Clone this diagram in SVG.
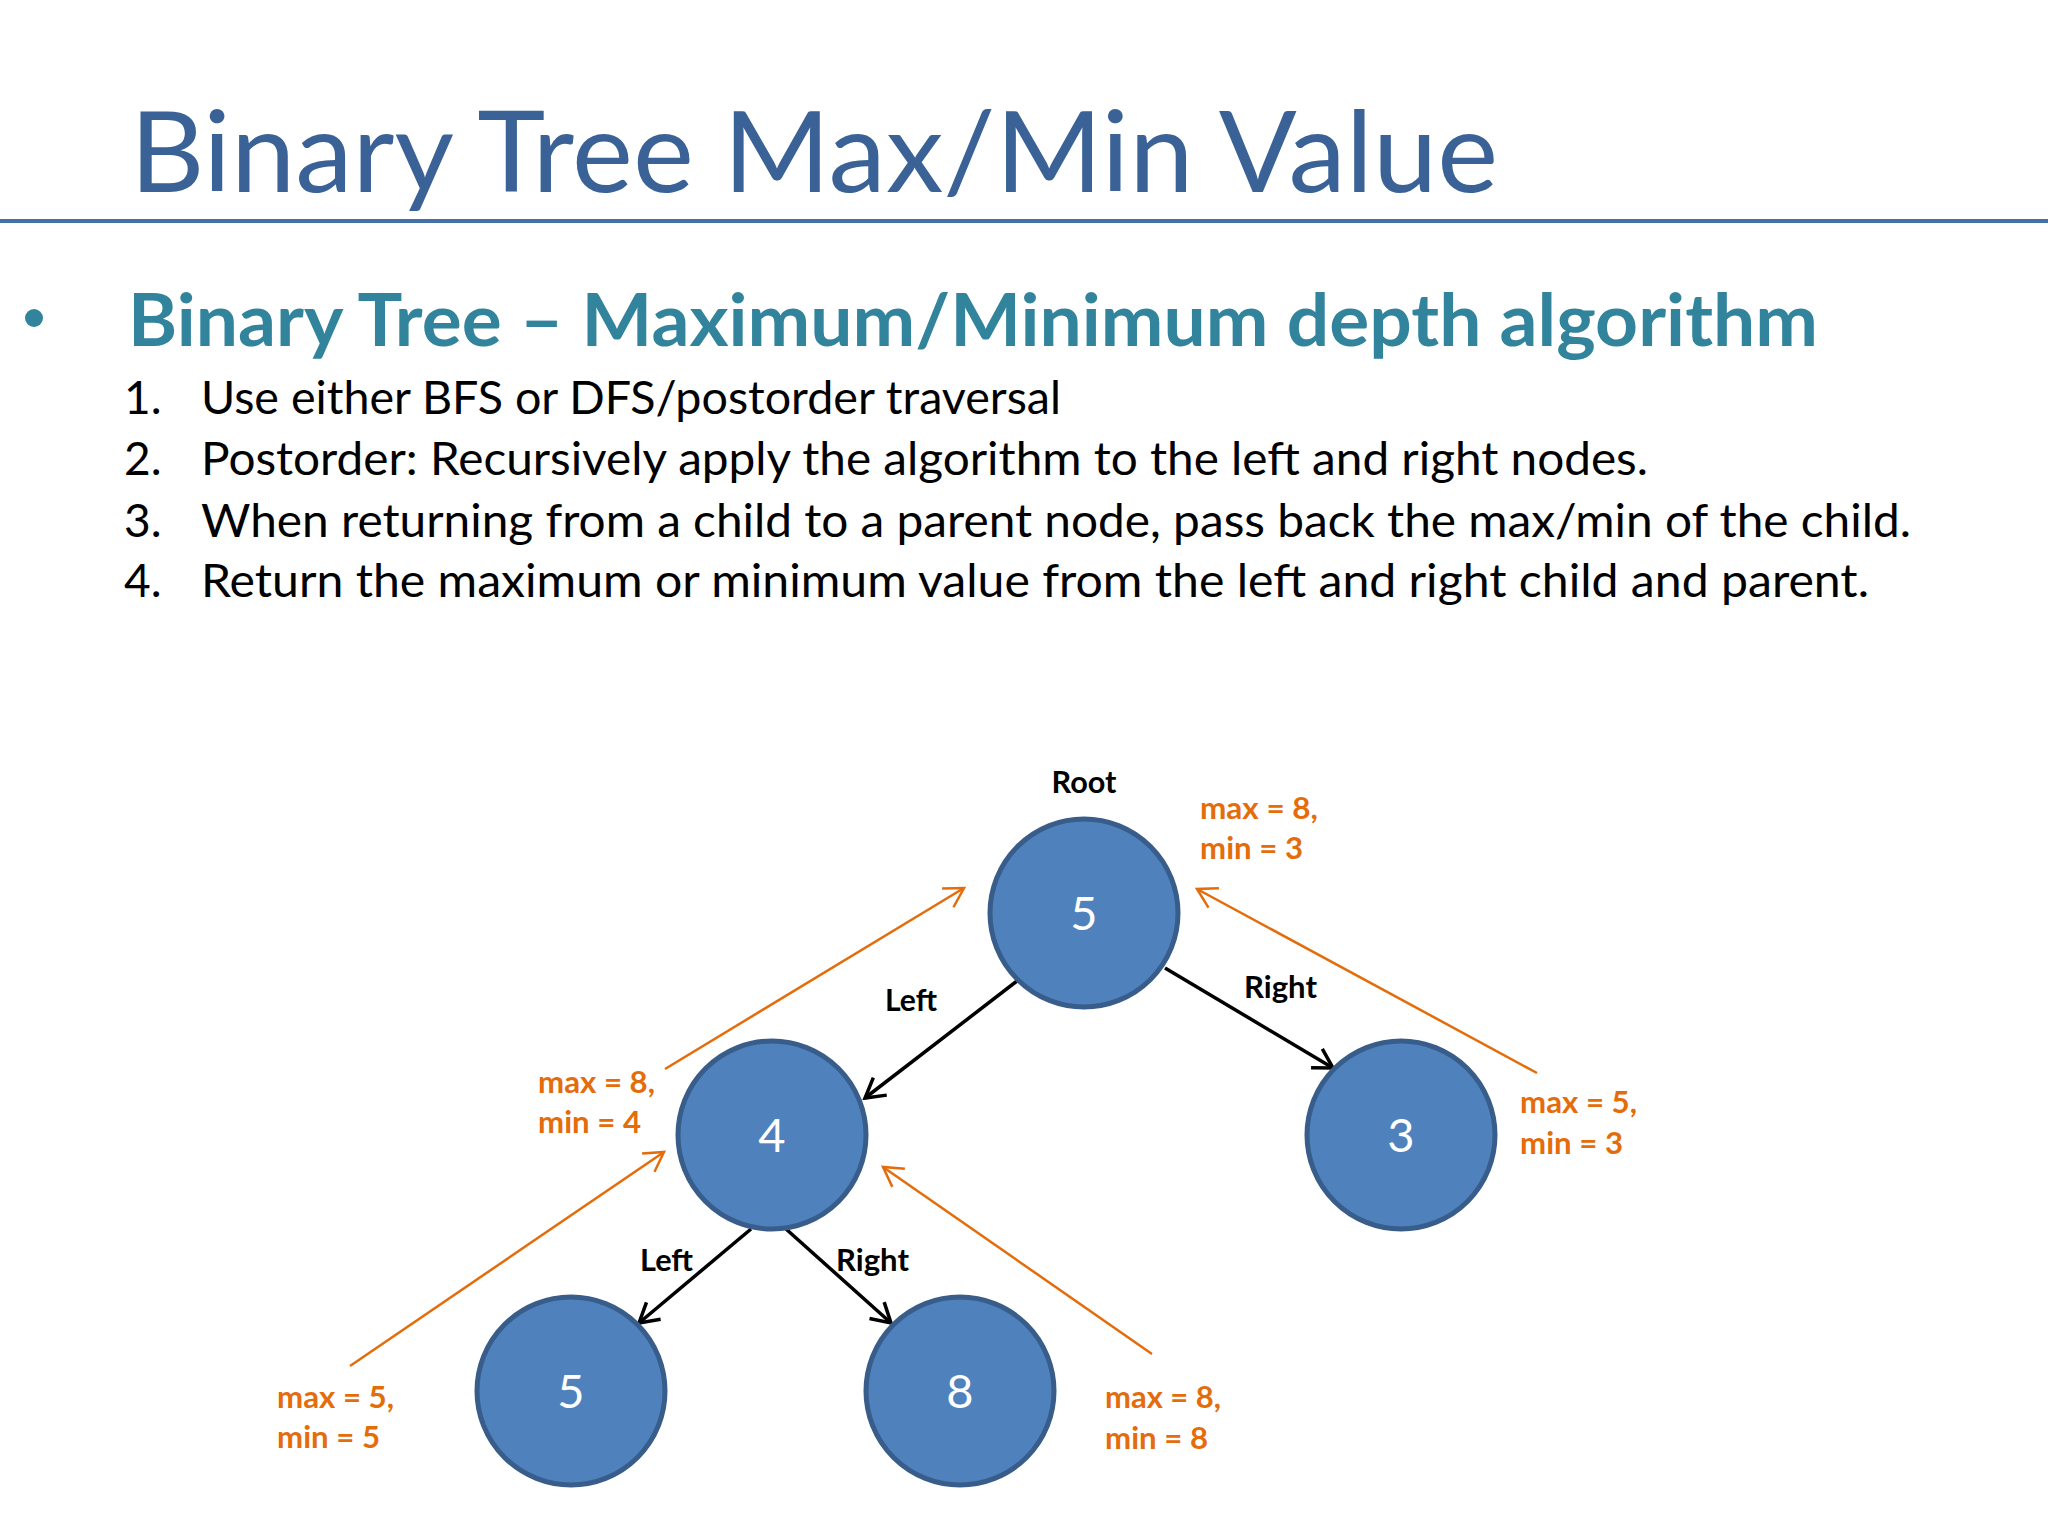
<svg xmlns="http://www.w3.org/2000/svg" width="2048" height="1536" viewBox="0 0 2048 1536">
<style>
.title{font-family:Lato,"Open Sans","Liberation Sans",sans-serif;font-size:112px;fill:#3A6297}
.head{font-family:Lato,"Open Sans","Liberation Sans",sans-serif;font-size:72px;font-weight:bold;fill:#31849B}
.item{font-family:Lato,"Open Sans","Liberation Sans",sans-serif;font-size:46px;fill:#000}
.node circle{fill:#4F81BD;stroke:#385D8A;stroke-width:5}
.node text.num{font-family:Lato,"Open Sans","Liberation Sans",sans-serif;font-size:47px;fill:#fff;text-anchor:middle}
.lbl{font-family:Lato,"Open Sans","Liberation Sans",sans-serif;font-size:30px;font-weight:bold;fill:#000}
.node text.val{font-family:Lato,"Open Sans","Liberation Sans",sans-serif;font-size:30px;font-weight:bold;fill:#E46C0A;text-anchor:start}
.edge{stroke:#000;stroke-width:3.5;fill:none;marker-end:url(#ab)}
.ret{stroke:#E46C0A;stroke-width:2.5;fill:none;marker-end:url(#ao)}
</style>
<defs>
<marker id="ab" viewBox="-24 -14 27 28" refX="0" refY="0" markerWidth="27" markerHeight="28" markerUnits="userSpaceOnUse" orient="auto">
<path d="M-19,-11 L0,0 L-19,11" fill="none" stroke="#000" stroke-width="3.5"/>
</marker>
<marker id="ao" viewBox="-24 -14 27 28" refX="0" refY="0" markerWidth="27" markerHeight="28" markerUnits="userSpaceOnUse" orient="auto">
<path d="M-19,-11 L0,0 L-19,11" fill="none" stroke="#E46C0A" stroke-width="2.5"/>
</marker>
</defs>
<rect width="2048" height="1536" fill="#fff"/>
<text class="title" x="130" y="192" textLength="1368" lengthAdjust="spacingAndGlyphs">Binary Tree Max/Min Value</text>
<rect x="0" y="219" width="2048" height="4" fill="#4470A8"/>
<circle cx="34" cy="318" r="9" fill="#31849B"/>
<text class="head" x="128" y="346" textLength="1690" lengthAdjust="spacingAndGlyphs">Binary Tree – Maximum/Minimum depth algorithm</text>
<text class="item" x="124" y="414">1.</text>
<text class="item" x="201" y="414" textLength="860" lengthAdjust="spacingAndGlyphs">Use either BFS or DFS/postorder traversal</text>
<text class="item" x="124" y="475">2.</text>
<text class="item" x="201" y="475" textLength="1447" lengthAdjust="spacingAndGlyphs">Postorder: Recursively apply the algorithm to the left and right nodes.</text>
<text class="item" x="124" y="537">3.</text>
<text class="item" x="201" y="537" textLength="1710" lengthAdjust="spacingAndGlyphs">When returning from a child to a parent node, pass back the max/min of the child.</text>
<text class="item" x="124" y="597">4.</text>
<text class="item" x="201" y="597" textLength="1668" lengthAdjust="spacingAndGlyphs">Return the maximum or minimum value from the left and right child and parent.</text>
<g id="connectors">
<line class="edge" x1="1017" y1="981" x2="865" y2="1098"/>
<line class="edge" x1="1165" y1="968" x2="1333" y2="1068"/>
<line class="edge" x1="751" y1="1229" x2="639" y2="1323"/>
<line class="edge" x1="786" y1="1229" x2="891" y2="1323"/>
<line class="ret" x1="665" y1="1069" x2="964" y2="888"/>
<line class="ret" x1="1537" y1="1073" x2="1197" y2="889"/>
<line class="ret" x1="350" y1="1366" x2="664" y2="1152"/>
<line class="ret" x1="1152" y1="1354" x2="883" y2="1167"/>
<text class="lbl" x="1084" y="793" text-anchor="middle" textLength="65" lengthAdjust="spacingAndGlyphs">Root</text>
<text class="lbl" x="885" y="1011" textLength="52" lengthAdjust="spacingAndGlyphs">Left</text>
<text class="lbl" x="1244" y="998" textLength="73" lengthAdjust="spacingAndGlyphs">Right</text>
<text class="lbl" x="640" y="1271" textLength="53" lengthAdjust="spacingAndGlyphs">Left</text>
<text class="lbl" x="836" y="1271" textLength="73" lengthAdjust="spacingAndGlyphs">Right</text>
</g>
<g id="node-root" class="node">
<circle cx="1084" cy="913" r="94"/>
<text class="num" x="1084" y="930">5</text>
<text class="val" x="1200" y="819" textLength="118" lengthAdjust="spacingAndGlyphs">max = 8,</text>
<text class="val" x="1200" y="859" textLength="103" lengthAdjust="spacingAndGlyphs">min = 3</text>
</g>
<g id="node-4" class="node">
<circle cx="772" cy="1135" r="94"/>
<text class="num" x="772" y="1152">4</text>
<text class="val" x="538" y="1093" textLength="117" lengthAdjust="spacingAndGlyphs">max = 8,</text>
<text class="val" x="538" y="1133" textLength="103" lengthAdjust="spacingAndGlyphs">min = 4</text>
</g>
<g id="node-3" class="node">
<circle cx="1401" cy="1135" r="94"/>
<text class="num" x="1401" y="1152">3</text>
<text class="val" x="1520" y="1113" textLength="117" lengthAdjust="spacingAndGlyphs">max = 5,</text>
<text class="val" x="1520" y="1154" textLength="103" lengthAdjust="spacingAndGlyphs">min = 3</text>
</g>
<g id="node-5" class="node">
<circle cx="571" cy="1391" r="94"/>
<text class="num" x="571" y="1408">5</text>
<text class="val" x="277" y="1408" textLength="117" lengthAdjust="spacingAndGlyphs">max = 5,</text>
<text class="val" x="277" y="1448" textLength="103" lengthAdjust="spacingAndGlyphs">min = 5</text>
</g>
<g id="node-8" class="node">
<circle cx="960" cy="1391" r="94"/>
<text class="num" x="960" y="1408">8</text>
<text class="val" x="1105" y="1408" textLength="116" lengthAdjust="spacingAndGlyphs">max = 8,</text>
<text class="val" x="1105" y="1449" textLength="103" lengthAdjust="spacingAndGlyphs">min = 8</text>
</g>
</svg>
